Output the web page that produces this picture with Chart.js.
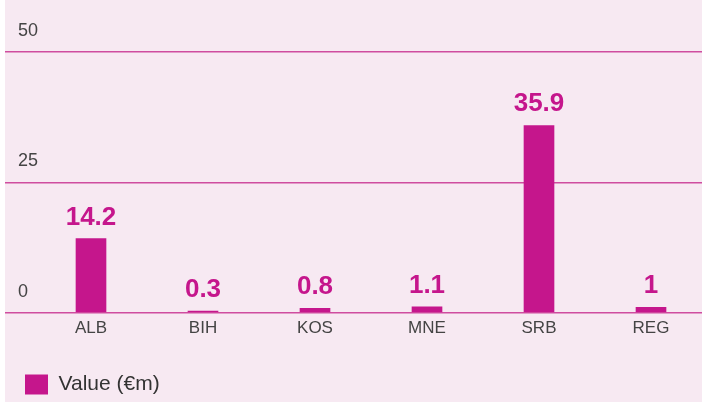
<!DOCTYPE html>
<html><head><meta charset="utf-8">
<script src="https://cdn.jsdelivr.net/npm/chart.js@4/dist/chart.umd.min.js"></script>
<style>
html,body{margin:0;padding:0;background:#fff;overflow:hidden;width:702px;height:403px;}
#bg{position:absolute;left:5px;top:0;width:697px;height:402px;background:#f7e9f2;}
#wrap{position:absolute;left:0;top:0;width:712px;height:403px;}
</style></head>
<body>
<div id="bg"></div>
<div id="wrap"><canvas id="c" width="712" height="403"></canvas></div>
<script>
const categories = ['ALB','BIH','KOS','MNE','SRB','REG'];
const values = [14.2, 0.3, 0.8, 1.1, 35.9, 1];
const valueLabels = ['14.2','0.3','0.8','1.1','35.9','1'];
const seriesName = 'Value (€m)';
const yTicks = [0, 25, 50];

const MAG = '#c5168c';
const GRID = '#cf4d9f';

const dataLabels = {
  id: 'dataLabels',
  afterDatasetsDraw(chart) {
    const ctx = chart.ctx;
    const meta = chart.getDatasetMeta(0);
    ctx.save();
    ctx.font = 'bold 26px "Liberation Sans", Arial, sans-serif';
    ctx.fillStyle = MAG;
    ctx.textAlign = 'center';
    ctx.textBaseline = 'alphabetic';
    meta.data.forEach((el, i) => {
      ctx.fillText(valueLabels[i], el.x, el.y - 14);
    });
    ctx.restore();
  }
};

new Chart(document.getElementById('c'), {
  type: 'bar',
  data: {
    labels: categories,
    datasets: [{
      label: seriesName,
      data: values,
      backgroundColor: MAG,
      borderWidth: 0,
      barThickness: 30
    }]
  },
  options: {
    responsive: false,
    animation: false,
    layout: { padding: { left: 18, right: 5, top: 52, bottom: -2 } },
    plugins: {
      tooltip: { enabled: false },
      legend: {
        position: 'bottom',
        align: 'start',
        labels: {
          boxWidth: 23,
          boxHeight: 20,
          padding: 7,
          color: '#333',
          font: { family: '"Liberation Sans", Arial, sans-serif', size: 21 }
        }
      }
    },
    scales: {
      x: {
        grid: { display: false, drawTicks: false },
        border: { display: false },
        afterFit(scale) { scale.height += 22; },
        ticks: {
          color: '#444',
          padding: 6,
          font: { family: '"Liberation Sans", Arial, sans-serif', size: 17 }
        }
      },
      y: {
        min: 0, max: 50,
        afterBuildTicks(scale) { scale.ticks = yTicks.map(v => ({ value: v })); },
        afterFit(scale) { scale.width = 17; },
        border: { display: false },
        grid: { color: GRID, lineWidth: 1.5, tickLength: 30, tickColor: GRID },
        ticks: {
          mirror: true,
          padding: -17,
          labelOffset: -21,
          color: '#444',
          font: { family: '"Liberation Sans", Arial, sans-serif', size: 18 }
        }
      }
    }
  },
  plugins: [dataLabels]
});
</script>
</body></html>
